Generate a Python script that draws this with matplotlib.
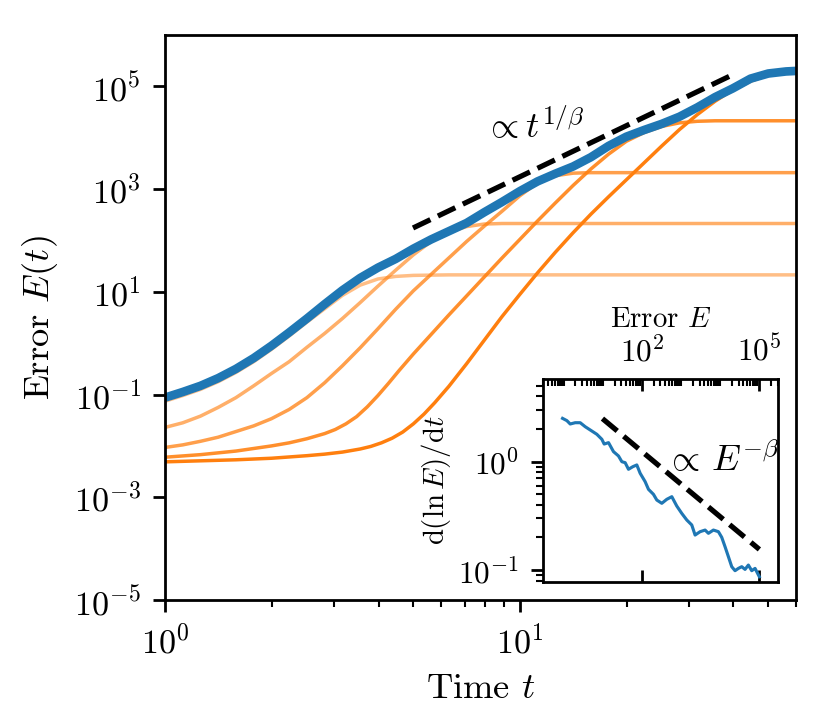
import numpy as np
import matplotlib.pyplot as plt
from matplotlib.ticker import LogLocator, NullFormatter

plt.rcParams['font.family'] = 'serif'
plt.rcParams['font.serif'] = ['cmr10']
plt.rcParams['mathtext.fontset'] = 'cm'
plt.rcParams['axes.formatter.use_mathtext'] = True
plt.rcParams['font.size'] = 10

blue_logt = [0, 0.05, 0.10, 0.15, 0.20, 0.25, 0.30, 0.35, 0.40, 0.45, 0.50, 0.55,
             0.60, 0.65, 0.70, 0.75, 0.80, 0.85, 0.90, 0.95, 1.00, 1.05, 1.10, 1.15,
             1.20, 1.25, 1.30, 1.35, 1.40, 1.45, 1.50, 1.55, 1.60, 1.65, 1.70, 1.75, 1.778]
blue_logE = [-1.06, -0.95, -0.83, -0.68, -0.50, -0.29, -0.05, 0.21, 0.48, 0.76, 1.03, 1.27,
             1.47, 1.64, 1.84, 2.02, 2.18, 2.34, 2.55, 2.75, 2.96, 3.15, 3.30, 3.44,
             3.62, 3.84, 4.02, 4.15, 4.27, 4.41, 4.59, 4.79, 4.96, 5.15, 5.25, 5.29, 5.30]

o1_logt = [0, 0.05, 0.10, 0.15, 0.20, 0.25, 0.30, 0.35, 0.40, 0.45, 0.50, 0.55,
           0.60, 0.65, 0.70, 0.80, 1.0, 1.4, 1.778]
o1_logE = [-1.13, -1.02, -0.90, -0.75, -0.57, -0.36, -0.12, 0.14, 0.41, 0.67, 0.93, 1.13,
           1.25, 1.30, 1.32, 1.33, 1.33, 1.33, 1.33]

o2_logt = [0, 0.05, 0.10, 0.15, 0.20, 0.25, 0.30, 0.35, 0.40, 0.45, 0.50, 0.55,
           0.60, 0.65, 0.70, 0.75, 0.80, 0.85, 0.90, 0.95, 1.0, 1.4, 1.778]
o2_logE = [-1.64, -1.55, -1.42, -1.25, -1.06, -0.83, -0.59, -0.36, -0.08, 0.19, 0.48, 0.79,
           1.11, 1.42, 1.72, 1.98, 2.16, 2.27, 2.32, 2.33, 2.33, 2.33, 2.33]

o3_logt = [0, 0.05, 0.10, 0.15, 0.20, 0.25, 0.30, 0.35, 0.40, 0.45, 0.50, 0.55,
           0.60, 0.65, 0.70, 0.75, 0.80, 0.85, 0.90, 0.95, 1.00, 1.05, 1.10, 1.15,
           1.20, 1.4, 1.778]
o3_logE = [-2.03, -1.98, -1.91, -1.83, -1.72, -1.61, -1.47, -1.29, -1.06, -0.77, -0.44, -0.09,
           0.28, 0.66, 1.02, 1.34, 1.66, 1.98, 2.28, 2.57, 2.87, 3.12, 3.26, 3.31,
           3.32, 3.32, 3.32]

o4_logt = [0, 0.10, 0.20, 0.30, 0.35, 0.40, 0.45, 0.48, 0.51, 0.54, 0.57, 0.60,
           0.63, 0.66, 0.70, 0.75, 0.80, 0.85, 0.90, 0.95, 1.00, 1.05, 1.10, 1.15,
           1.20, 1.25, 1.30, 1.35, 1.40, 1.45, 1.50, 1.55, 1.778]
o4_logE = [-2.22, -2.17, -2.10, -2.00, -1.94, -1.86, -1.76, -1.68, -1.57, -1.43, -1.24, -1.02,
           -0.78, -0.53, -0.21, 0.17, 0.55, 0.92, 1.29, 1.66, 2.02, 2.38, 2.73, 3.07,
           3.39, 3.68, 3.93, 4.10, 4.22, 4.29, 4.32, 4.33, 4.33]

o5_logt = [0, 0.10, 0.20, 0.30, 0.40, 0.45, 0.50, 0.55, 0.58, 0.61, 0.64, 0.67,
           0.70, 0.73, 0.76, 0.80, 0.85, 0.90, 0.95, 1.00, 1.05, 1.10, 1.15, 1.20,
           1.25, 1.30, 1.35, 1.40, 1.45, 1.50, 1.55, 1.60, 1.65, 1.70, 1.75, 1.778]
o5_logE = [-2.31, -2.29, -2.27, -2.24, -2.19, -2.16, -2.12, -2.06, -2.01, -1.94, -1.85, -1.73,
           -1.57, -1.38, -1.16, -0.84, -0.40, 0.06, 0.52, 0.95, 1.37, 1.77, 2.15, 2.51,
           2.85, 3.18, 3.51, 3.84, 4.16, 4.45, 4.71, 4.93, 5.10, 5.22, 5.28, 5.29]

orange_alpha = [0.5, 0.625, 0.75, 0.875, 1.0]

# guide line  E ~ t^(1/beta)
guide_t = [5.0, 40.6]
guide_E = [175, 1.8e5]

# inset: growth rate vs error (log10 values)
inset_logE = [-0.03, 0.081, 0.166, 0.294, 0.422, 0.55, 0.678, 0.848, 0.976, 1.036,
              1.147, 1.274, 1.402, 1.488, 1.573, 1.658, 1.769, 1.871, 1.957, 2.084,
              2.17, 2.297, 2.383, 2.511, 2.639, 2.767, 2.894, 3.022, 3.15, 3.278,
              3.363, 3.491, 3.619, 3.704, 3.832, 3.96, 4.045, 4.13, 4.216, 4.301,
              4.386, 4.471, 4.557, 4.642, 4.727, 4.813, 4.898, 5.008]
inset_logR = [0.400, 0.379, 0.348, 0.360, 0.360, 0.323, 0.293, 0.253, 0.207, 0.163,
              0.176, 0.093, 0.053, 0.000, -0.009, -0.070, -0.046, -0.030, -0.107, -0.184,
              -0.255, -0.301, -0.354, -0.384, -0.347, -0.323, -0.409, -0.477, -0.538, -0.584,
              -0.677, -0.646, -0.631, -0.661, -0.631, -0.646, -0.698, -0.785, -0.877, -0.969,
              -1.006, -0.985, -0.969, -0.994, -0.954, -1.006, -0.985, -1.062]
inset_guide_E = [9.8, 1.02e5]
inset_guide_R = [2.5, 0.155]

fig = plt.figure(figsize=(832 / 250, 723 / 250), dpi=250)
ax = fig.add_axes([0.1983, 0.1701, 0.7584, 0.7815])

curves = [(o1_logt, o1_logE), (o2_logt, o2_logE), (o3_logt, o3_logE),
          (o4_logt, o4_logE), (o5_logt, o5_logE)]
for (lt, le), a in zip(curves, orange_alpha):
    ax.plot(10 ** np.array(lt), 10 ** np.array(le), color='C1', alpha=a, lw=1.0)

ax.plot(10 ** np.array(blue_logt), 10 ** np.array(blue_logE), color='C0', lw=2.5)
ax.plot(guide_t, guide_E, 'k--', lw=1.5)
ax.text(11.0, 10 ** 4.21, r'$\propto t^{1/\beta}$', ha='center', va='center', fontsize=10.5)

ax.set_xscale('log')
ax.set_yscale('log')
ax.set_xlim(1, 60)
ax.set_ylim(1e-5, 1e6)
ax.set_yticks([1e-5, 1e-3, 1e-1, 1e1, 1e3, 1e5])
ax.yaxis.set_minor_locator(plt.NullLocator())
ax.tick_params(labelsize=9.8)
ax.set_xlabel('Time $t$', fontsize=10.5)
ax.set_ylabel('Error $E(t)$', fontsize=10.5)

# inset
ins = fig.add_axes([0.653, 0.1954, 0.2817, 0.2804])
ins.plot(10 ** np.array(inset_logE), 10 ** np.array(inset_logR), color='C0', lw=0.9)
ins.plot(inset_guide_E, inset_guide_R, 'k--', lw=1.5)
ins.text(10 ** 4.05, 10 ** 0.02, r'$\propto\, E^{-\beta}$', ha='center', va='center', fontsize=10.5)
ins.set_xscale('log')
ins.set_yscale('log')
ins.set_xlim(0.3, 3e5)
ins.set_ylim(0.078, 5.8)
ins.set_xticks([1e2, 1e5])
ins.xaxis.set_minor_locator(LogLocator(base=10, subs=np.arange(1, 10), numticks=100))
ins.xaxis.set_minor_formatter(NullFormatter())
ins.xaxis.set_label_position('top')
ins.tick_params(axis='x', which='major', direction='in', top=True, bottom=True,
                labeltop=True, labelbottom=False, labelsize=9)
ins.tick_params(axis='x', which='minor', direction='in', top=True, bottom=False)
ins.tick_params(axis='y', which='both', labelsize=9)
ins.set_xlabel('Error $E$', fontsize=8.3, labelpad=2)
ins.set_ylabel(r'$\mathrm{d}(\ln E)/\mathrm{d}t$', fontsize=8.3, labelpad=1.5)

fig.savefig('out.png', dpi=250)
